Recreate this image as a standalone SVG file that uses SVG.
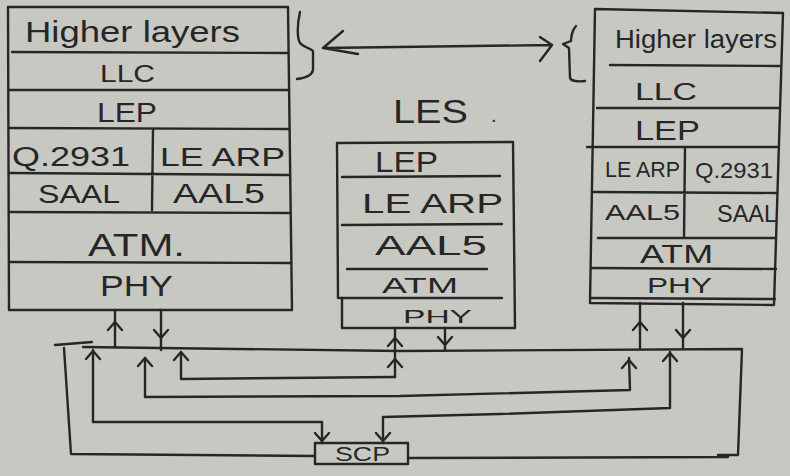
<svg xmlns="http://www.w3.org/2000/svg" xmlns:xlink="http://www.w3.org/1999/xlink" width="790" height="476" viewBox="0 0 790 476">
<defs>
<style>
.ink{fill:none;stroke:#262626;stroke-width:2.4;stroke-linecap:round;stroke-linejoin:round}
.t{font-family:"Liberation Sans",Arial,sans-serif;fill:#262626}
</style>
<path id="up" d="M-7,8 L0,0 L7,8"/>
<path id="dn" d="M-7,-8 L0,0 L7,-8"/>
</defs>
<rect width="790" height="476" fill="#c8c8c3"/>

<g id="stack-left">
<path class="ink" d="M8,7 L288,7 L292,310 L9,310 Z"/>
<path class="ink" d="M12,52 L288,53 M9,90 L288,90 M9,128 L289,129 M9,173 L289,175 M9,212 L290,213 M9,262 L291,263 M153,129 L152,210"/>
<text class="t" x="25" y="42" font-size="30" textLength="215" lengthAdjust="spacingAndGlyphs">Higher layers</text>
<text class="t" x="100" y="82" font-size="24" textLength="55" lengthAdjust="spacingAndGlyphs">LLC</text>
<text class="t" x="97" y="122" font-size="27" textLength="60" lengthAdjust="spacingAndGlyphs">LEP</text>
<text class="t" x="12" y="166" font-size="27" textLength="118" lengthAdjust="spacingAndGlyphs">Q.2931</text>
<text class="t" x="160" y="166" font-size="26" textLength="125" lengthAdjust="spacingAndGlyphs">LE ARP</text>
<text class="t" x="38" y="203" font-size="25" textLength="82" lengthAdjust="spacingAndGlyphs">SAAL</text>
<text class="t" x="173" y="203" font-size="27" textLength="92" lengthAdjust="spacingAndGlyphs">AAL5</text>
<text class="t" x="88" y="256" font-size="32" textLength="97" lengthAdjust="spacingAndGlyphs">ATM.</text>
<text class="t" x="100" y="296" font-size="30" textLength="73" lengthAdjust="spacingAndGlyphs">PHY</text>
</g>

<g id="les">
<text class="t" x="393" y="123" font-size="34" textLength="75" lengthAdjust="spacingAndGlyphs">LES</text>
<text class="t" x="491" y="122" font-size="20">.</text>
<path class="ink" d="M337,143 L513,142 M337,143 L338,298 M513,142 L515,328 M342,298 L342,328 L515,328"/>
<path class="ink" d="M342,177 L500,176 M342,225 L502,224 M347,269 L487,269 M340,298 L502,298"/>
<text class="t" x="375" y="172" font-size="30" textLength="63" lengthAdjust="spacingAndGlyphs">LEP</text>
<text class="t" x="362" y="213" font-size="28" textLength="141" lengthAdjust="spacingAndGlyphs">LE ARP</text>
<text class="t" x="375" y="255" font-size="28" textLength="112" lengthAdjust="spacingAndGlyphs">AAL5</text>
<text class="t" x="382" y="293" font-size="22" textLength="76" lengthAdjust="spacingAndGlyphs">ATM</text>
<text class="t" x="403" y="323" font-size="19" textLength="69" lengthAdjust="spacingAndGlyphs">PHY</text>
</g>

<g id="stack-right">
<path class="ink" d="M595,9 L783,13 L774,305 L590,303 Z"/>
<path class="ink" d="M610,65 L780,66 M597,108 L779,108 M587,147 L777,147 M594,192 L776,193 M598,238 L775,238 M592,268 L776,269 M590,298 L775,299 M685,147 L684,238"/>
<text class="t" x="615" y="48" font-size="26" textLength="162" lengthAdjust="spacingAndGlyphs">Higher layers</text>
<text class="t" x="635" y="100" font-size="24" textLength="62" lengthAdjust="spacingAndGlyphs">LLC</text>
<text class="t" x="635" y="140" font-size="27" textLength="65" lengthAdjust="spacingAndGlyphs">LEP</text>
<text class="t" x="605" y="177" font-size="22" textLength="75" lengthAdjust="spacingAndGlyphs">LE ARP</text>
<text class="t" x="695" y="178" font-size="22" textLength="78" lengthAdjust="spacingAndGlyphs">Q.2931</text>
<text class="t" x="605" y="220" font-size="22" textLength="75" lengthAdjust="spacingAndGlyphs">AAL5</text>
<text class="t" x="717" y="222" font-size="24" textLength="60" lengthAdjust="spacingAndGlyphs">SAAL</text>
<text class="t" x="640" y="263" font-size="26" textLength="73" lengthAdjust="spacingAndGlyphs">ATM</text>
<text class="t" x="647" y="293" font-size="22" textLength="65" lengthAdjust="spacingAndGlyphs">PHY</text>
</g>

<g id="scp">
<rect class="ink" x="315" y="443" width="93" height="21"/>
<text class="t" x="335" y="461" font-size="21" textLength="55" lengthAdjust="spacingAndGlyphs">SCP</text>
</g>

<g id="connectors">
<path class="ink" d="M300,12 C297,25 297,38 300,43 C303,47 310,48 313,51 L313,70 C312,75 305,78 297,79"/>
<path class="ink" d="M576,26 C572,30 571,38 571,41 L563,44 L569,48 L570,78 C571,81 578,82 585,81"/>
<path class="ink" d="M323,48 L552,45 M343,31 L323,48 L358,54 M540,37 L552,45 L540,61"/>

<path class="ink" d="M115,310 L115,347 M161,310 L161,350 M395,328 L395,377 M445,328 L445,350 M640,303 L640,348 M683,303 L683,348"/>
<path class="ink" d="M83,347 L400,351 L742,349 L738,455 L718,455 M728,457 L408,458"/>
<path class="ink" d="M55,345 L92,342 M64,348 L71,454 L315,456"/>
<path class="ink" d="M181,352 L181,379 L395,377"/>
<path class="ink" d="M145,358 L145,397 L400,396 L630,390 L629,358"/>
<path class="ink" d="M93,350 L93,422 L322,422 L322,443"/>
<path class="ink" d="M670,352 L670,408 L500,414 L383,417 L383,443"/>

<use href="#up" class="ink" x="115" y="322"/>
<use href="#dn" class="ink" x="161" y="338"/>
<use href="#up" class="ink" x="395" y="338"/>
<use href="#up" class="ink" x="395" y="359"/>
<use href="#dn" class="ink" x="445" y="345"/>
<use href="#up" class="ink" x="640" y="322"/>
<use href="#dn" class="ink" x="683" y="338"/>
<use href="#up" class="ink" x="93" y="351"/>
<use href="#up" class="ink" x="145" y="358"/>
<use href="#up" class="ink" x="181" y="352"/>
<use href="#up" class="ink" x="629" y="360"/>
<use href="#up" class="ink" x="670" y="353"/>
<use href="#dn" class="ink" x="322" y="441"/>
<use href="#dn" class="ink" x="383" y="441"/>
</g>
</svg>
